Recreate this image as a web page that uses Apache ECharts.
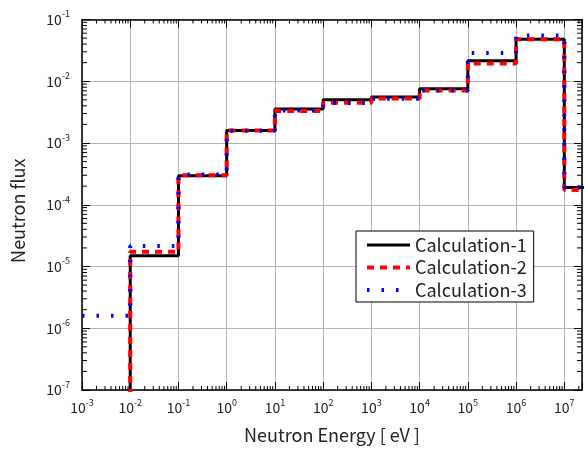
<!DOCTYPE html>
<html><head><meta charset="utf-8">
<script src="https://cdn.jsdelivr.net/npm/echarts@6/dist/echarts.min.js"></script>
<style>html,body{margin:0;padding:0;background:#fff}#c{width:585px;height:449px}</style>
</head><body><div id="c"></div>
<script>
// Energy group edges (eV)
const groupLowerEdges = [1e-3, 1e-2, 1e-1, 1e0, 1e1, 1e2, 1e3, 1e4, 1e5, 1e6, 1e7];
const groupUpperEdges = [1e-2, 1e-1, 1e0, 1e1, 1e2, 1e3, 1e4, 1e5, 1e6, 1e7, 1e8];
// Group flux values (values below 1e-7 are off the bottom of the chart)
const calc1 = [1e-8, 1.5e-5, 2.95e-4, 1.6e-3, 3.55e-3, 5.0e-3, 5.55e-3, 7.55e-3, 2.14e-2, 4.8e-2, 1.9e-4];
const calc2 = [1e-8, 1.73e-5, 3.0e-4, 1.6e-3, 3.3e-3, 4.5e-3, 5.25e-3, 7.1e-3, 1.94e-2, 4.8e-2, 1.73e-4];
const calc3 = [1.6e-6, 2.15e-5, 3.1e-4, 1.58e-3, 3.35e-3, 4.45e-3, 5.2e-3, 7.1e-3, 2.88e-2, 5.5e-2, 1.9e-4];
const seriesNames = ['Calculation-1', 'Calculation-2', 'Calculation-3'];
const xTitle = 'Neutron Energy [ eV ]';
const yTitle = 'Neutron flux';
const xMin = 1e-3, xMax = Math.pow(10, 7.367);
const yMin = 1e-7, yMax = 1e-1;

const FONT = '"Noto Sans CJK JP", "Liberation Sans", sans-serif';

function stepPoints(vals) {
  const pts = [];
  for (let i = 0; i < vals.length; i++) {
    pts.push([groupLowerEdges[i], vals[i]]);
    pts.push([groupUpperEdges[i], vals[i]]);
  }
  return pts;
}

function powLabel(v) {
  const l = Math.log10(v);
  const e = Math.round(l);
  if (Math.abs(l - e) > 1e-6) return '';
  return '{b|10}{s|' + e + '}';
}
const richLab = {
  b: { fontSize: 14, lineHeight: 20, fontFamily: FONT, color: '#222' },
  s: { fontSize: 9, verticalAlign: 'top', lineHeight: 10, fontFamily: FONT, color: '#222' }
};

// minor tick positions (decoration of log axes)
const minorData = [];
for (let e = -3; e <= 7; e++) for (let k = 2; k <= 9; k++) {
  const v = k * Math.pow(10, e);
  if (v < xMax) minorData.push([v, yMin, 0]);
}
for (let e = -7; e <= -2; e++) for (let k = 2; k <= 9; k++) {
  minorData.push([xMin, k * Math.pow(10, e), 1]);
}

const lineStyles = [
  { color: '#000', width: 3, type: 'solid' },
  { color: '#ff0000', width: 4, type: [7, 6] },
  { color: '#0000ff', width: 4, type: [2.5, 12] }
];

const chart = echarts.init(document.getElementById('c'), null, { renderer: 'canvas' });
const axisLineStyle = { color: '#000', width: 1.5 };
chart.setOption({
  animation: false,
  backgroundColor: '#fff',
  grid: { left: 82, right: -5, top: 19.5, bottom: 58, containLabel: false },
  legend: {
    data: seriesNames.map((n, i) => ({ name: n, lineStyle: { width: lineStyles[i].width } })),
    orient: 'vertical',
    left: 356, top: 231,
    itemWidth: 43, itemHeight: 10, itemGap: 4.5,
    padding: [5, 7, 3, 9],
    borderColor: '#000', borderWidth: 1,
    backgroundColor: '#fff',
    itemStyle: { opacity: 0 },
    textStyle: { fontSize: 18, fontFamily: FONT, color: '#222' }
  },
  xAxis: [{
    type: 'log', logBase: 10, min: xMin, max: xMax, interval: 1,
    name: xTitle, nameLocation: 'middle', nameGap: 36,
    nameTextStyle: { fontSize: 18, fontFamily: FONT, color: '#222' },
    axisLine: { lineStyle: axisLineStyle },
    axisTick: { inside: true, length: 8, lineStyle: { color: '#000' } },
    axisLabel: { formatter: powLabel, rich: richLab, margin: 8, showMinLabel: true, showMaxLabel: true },
    splitLine: { show: true, lineStyle: { color: '#b4b4b4', width: 1 } },
    minorTick: { show: false }
  }, {
    type: 'log', logBase: 10, min: xMin, max: xMax, interval: 1, position: 'top',
    axisLine: { lineStyle: axisLineStyle },
    axisTick: { inside: true, length: 8, lineStyle: { color: '#000' } },
    axisLabel: { show: false }, splitLine: { show: false }
  }],
  yAxis: [{
    type: 'log', logBase: 10, min: yMin, max: yMax, interval: 1,
    name: yTitle, nameLocation: 'middle', nameGap: 55, nameRotate: 90,
    nameTextStyle: { fontSize: 18, fontFamily: FONT, color: '#222', padding: [0, 12, 0, 0] },
    axisLine: { lineStyle: axisLineStyle },
    axisTick: { inside: true, length: 8, lineStyle: { color: '#000' } },
    axisLabel: { formatter: powLabel, rich: richLab, margin: 12 },
    splitLine: { show: true, lineStyle: { color: '#b4b4b4', width: 1 } }
  }, {
    type: 'log', logBase: 10, min: yMin, max: yMax, interval: 1, position: 'right',
    axisLine: { lineStyle: axisLineStyle },
    axisTick: { inside: true, length: 8, lineStyle: { color: '#000' } },
    axisLabel: { show: false }, splitLine: { show: false }
  }],
  series: [{
    name: seriesNames[0], type: 'line', data: stepPoints(calc1), symbol: 'none',
    lineStyle: lineStyles[0], itemStyle: { color: lineStyles[0].color }, z: 2
  }, {
    name: seriesNames[1], type: 'line', data: stepPoints(calc2), symbol: 'none',
    lineStyle: lineStyles[1], itemStyle: { color: lineStyles[1].color }, z: 3
  }, {
    name: seriesNames[2], type: 'line', data: stepPoints(calc3), symbol: 'none',
    lineStyle: lineStyles[2], itemStyle: { color: lineStyles[2].color }, z: 4
  }, {
    type: 'custom', silent: true, clip: false, z: 5,
    data: minorData,
    renderItem: function (params, api) {
      const which = api.value(2);
      const lw = 1;
      if (which === 0) {
        const v = api.value(0);
        const b = api.coord([v, yMin]);
        const t = api.coord([v, yMax]);
        return { type: 'group', children: [
          { type: 'line', shape: { x1: b[0], y1: b[1], x2: b[0], y2: b[1] - 4 }, style: { stroke: '#000', lineWidth: lw } },
          { type: 'line', shape: { x1: t[0], y1: t[1], x2: t[0], y2: t[1] + 4 }, style: { stroke: '#000', lineWidth: lw } }
        ] };
      } else {
        const v = api.value(1);
        const l = api.coord([xMin, v]);
        const r = api.coord([xMax, v]);
        return { type: 'group', children: [
          { type: 'line', shape: { x1: l[0], y1: l[1], x2: l[0] + 5, y2: l[1] }, style: { stroke: '#000', lineWidth: lw } },
          { type: 'line', shape: { x1: r[0], y1: r[1], x2: r[0] - 5, y2: r[1] }, style: { stroke: '#000', lineWidth: lw } }
        ] };
      }
    }
  }]
});
</script></body></html>
